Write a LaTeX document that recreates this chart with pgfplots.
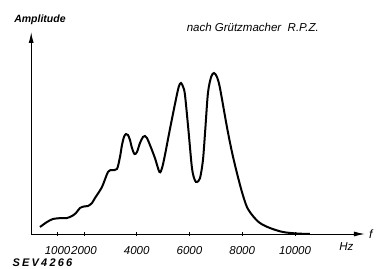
\documentclass[border=0pt]{standalone}
\usepackage{pgfplots}
\pgfplotsset{compat=1.18}
\usepackage{fontspec}
\setmainfont{Liberation Sans}
\newfontfamily\sevfont[LetterSpace=20]{Liberation Sans}
\usetikzlibrary{arrows.meta}
\begin{document}
\begin{tikzpicture}
\useasboundingbox (-31.2pt,-34pt) rectangle (345.8pt,234pt);
\begin{axis}[
  at={(0,0)}, anchor=origin,
  x=0.02639pt, y=1pt,
  xmin=0, xmax=12650, ymin=0, ymax=202,
  axis lines=left,
  axis line style={-{Latex[length=11pt,width=5pt]}, line width=1pt},
  clip=false,
  ytick=\empty,
  scaled x ticks=false,
  xtick={1000,2000,4000,6000,8000,10000},
  xticklabels={1000,2000,4000,6000,8000,10000},
  tick align=center,
  major tick length=4pt,
  tick style={line width=0.8pt, black},
  /pgf/number format/assume math mode=true,
  xticklabel style={font=\fontsize{11.5}{12}\selectfont\itshape, anchor=north, yshift=-7pt},
]
\addplot[black, line width=2pt, smooth, tension=0.5] coordinates {
(333,7) (599,12) (826,15) (1167,16) (1356,16) (1546,18) (1697,21) (1849,26)
(2000,27.5) (2152,28) (2304,31) (2418,36) (2683,47) (2910,62) (3062,64) (3251,65)
(3365,77) (3441,89) (3517,97) (3592,100) (3668,99) (3744,94) (3820,86) (3915,80)
(4010,82) (4123,91) (4237,97) (4312,98) (4388,96) (4502,89) (4690,76) (4862,62)
(4960,66) (5070,79) (5260,105) (5450,130) (5590,147) (5677,151) (5760,147) (5830,139)
(5960,104) (6094,66) (6200,54) (6284,52) (6400,56) (6511,74) (6600,105) (6700,141)
(6820,157) (6928,161) (7042,157) (7155,146)
(7420,107) (7610,82) (7799,61) (7989,42) (8178,27) (8405,18) (8670,11)
(9049,6) (9542,2) (10072,0.5) (10565,0)
};
\node[font=\fontsize{10.5}{12}\selectfont\bfseries\itshape] at (axis cs:333,214) {Amplitude};
\node[font=\fontsize{11.5}{12}\selectfont\itshape] at (axis cs:8400,207) {nach Grützmacher\ \ R.P.Z.};
\node[font=\fontsize{11}{12}\selectfont\sevfont\bfseries\itshape] at (axis cs:428,-29) {SEV4266};
\node[font=\fontsize{11.5}{12}\selectfont\itshape] at (axis cs:11948,-13) {Hz};
\node[font=\fontsize{12}{12}\selectfont\itshape, anchor=west, inner sep=1pt] at (axis cs:12760,0) {f};
\end{axis}
\end{tikzpicture}
\end{document}
